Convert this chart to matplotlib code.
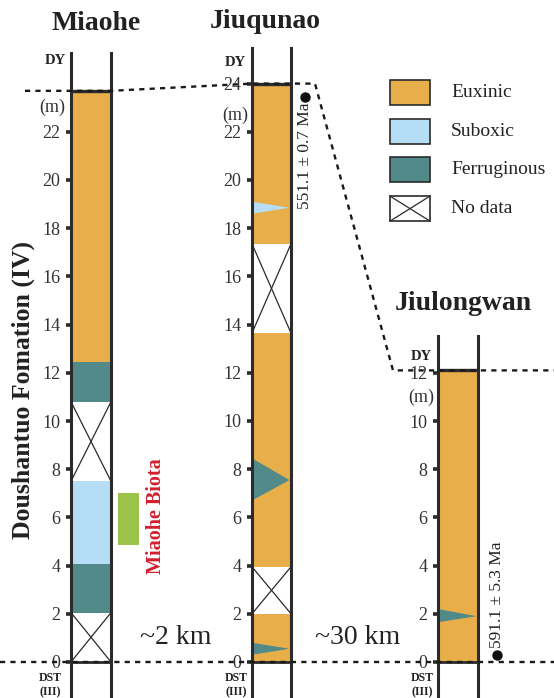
import matplotlib
matplotlib.use('Agg')
import matplotlib.pyplot as plt
from matplotlib.patches import Rectangle

plt.rcParams['font.family'] = ['Liberation Serif', 'DejaVu Serif']

# facies intervals (m)
miaohe_base = [0.0, 2.05, 4.05, 7.5, 10.8, 12.45]
miaohe_top = [2.05, 4.05, 7.5, 10.8, 12.45, 23.7]
miaohe_facies = ['nodata', 'ferr', 'subox', 'nodata', 'ferr', 'eux']

jiuqunao_base = [0.0, 2.0, 3.95, 13.65, 17.35]
jiuqunao_top = [2.0, 3.95, 13.65, 17.35, 24.0]
jiuqunao_facies = ['eux', 'nodata', 'eux', 'nodata', 'eux']
jiuqunao_wedge_lo = [0.3, 6.7, 18.6]
jiuqunao_wedge_hi = [0.8, 8.45, 19.1]
jiuqunao_wedge_apex = [0.55, 7.55, 18.85]
jiuqunao_wedge_facies = ['ferr', 'ferr', 'subox']

jiulongwan_base = [0.0]
jiulongwan_top = [12.1]
jiulongwan_facies = ['eux']
jiulongwan_wedge_lo = [1.65]
jiulongwan_wedge_hi = [2.2]
jiulongwan_wedge_apex = [1.9]
jiulongwan_wedge_facies = ['ferr']

biota_base, biota_top = 4.85, 7.0
date_jiuqunao = 23.45
date_jiulongwan = 0.3

colors = {'eux': '#e8ae4a', 'subox': '#b6ddf6', 'ferr': '#528a8a', 'nodata': 'white'}
legend_names = ['Euxinic', 'Suboxic', 'Ferruginous', 'No data']
legend_keys = ['eux', 'subox', 'ferr', 'nodata']

W, H = 554, 698
Y0, PPM = 662, 24.1
DARK = '#2b2b2b'


def m(py):
    return (Y0 - py) / PPM


fig = plt.figure(figsize=(W / 100, H / 100), dpi=100)


def column(x0, x1, top_px, base, top, facies, wlo=(), whi=(), wap=(), wfac=()):
    ax = fig.add_axes([x0 / W, 0, (x1 - x0) / W, (H - top_px) / H])
    ax.set_xlim(0, 1)
    ax.set_ylim(m(H), m(top_px))
    for b, t, f in zip(base, top, facies):
        ax.bar(0.5, t - b, bottom=b, width=1, color=colors[f], linewidth=0)
        if f == 'nodata':
            ax.plot([0, 1], [b, t], color=DARK, lw=0.9)
            ax.plot([0, 1], [t, b], color=DARK, lw=0.9)
    for lo, hi, ap, f in zip(wlo, whi, wap, wfac):
        ax.fill([0, 0, 0.96], [lo, hi, ap], color=colors[f], lw=0)
    ax.hlines([top[-1]], 0, 1, color=DARK, lw=2.4)
    ax.hlines([0], 0, 1, color=DARK, lw=2.0)
    for s in ['top', 'bottom']:
        ax.spines[s].set_visible(False)
    for s in ['left', 'right']:
        ax.spines[s].set_linewidth(2.2)
        ax.spines[s].set_color(DARK)
    ax.set_xticks([])
    ax.set_yticks(range(0, int(top[-1]) + 1, 2))
    ax.tick_params(axis='y', length=3.5, width=2.6, color=DARK, labelsize=13,
                   labelcolor='#333333', pad=4)
    ax.patch.set_alpha(0)
    return ax


ax1 = column(71, 111, 53, miaohe_base, miaohe_top, miaohe_facies)
ax2 = column(252, 291, 48, jiuqunao_base, jiuqunao_top, jiuqunao_facies,
             jiuqunao_wedge_lo, jiuqunao_wedge_hi, jiuqunao_wedge_apex, jiuqunao_wedge_facies)
ax3 = column(438, 478, 336, jiulongwan_base, jiulongwan_top, jiulongwan_facies,
             jiulongwan_wedge_lo, jiulongwan_wedge_hi, jiulongwan_wedge_apex, jiulongwan_wedge_facies)

# overlay: x in pixels, y in metres
ov = fig.add_axes([0, 0, 1, 1], zorder=5)
ov.set_xlim(0, W)
ov.set_ylim(m(H), m(0))
ov.axis('off')
ov.patch.set_alpha(0)
dash = dict(color='#1a1a1a', lw=1.7, linestyle=(0, (2.2, 2.2)))
ov.plot([25, 111, 252, 315, 393, W], [miaohe_top[-1], miaohe_top[-1], jiuqunao_top[-1],
        jiuqunao_top[-1], jiulongwan_top[-1], jiulongwan_top[-1]], **dash)
ov.plot([0, W], [0, 0], **dash)
ov.add_patch(Rectangle((118, biota_base), 21, biota_top - biota_base, color='#9dc44a', lw=0))
ov.plot([305], [date_jiuqunao], 'o', color='#111111', ms=6.5)
ov.plot([497], [date_jiulongwan], 'o', color='#111111', ms=6.5)

# legend in pixel coordinates
lg = fig.add_axes([0, 0, 1, 1], zorder=6)
lg.set_xlim(0, W)
lg.set_ylim(H, 0)
lg.axis('off')
lg.patch.set_alpha(0)
for i, (name, key) in enumerate(zip(legend_names, legend_keys)):
    y = 80 + i * 38.7
    lg.add_patch(Rectangle((390, y), 40, 25, facecolor=colors[key], edgecolor=DARK, lw=1.2))
    if key == 'nodata':
        lg.plot([390, 430], [y, y + 25], color=DARK, lw=0.9)
        lg.plot([390, 430], [y + 25, y], color=DARK, lw=0.9)
    lg.text(451, y + 12.5, name, fontsize=14, va='center', ha='left', color='#222222')


def ftext(x, y, s, **kw):
    fig.text(x / W, 1 - y / H, s, ha=kw.pop('ha', 'center'), va=kw.pop('va', 'center'), **kw)


ftext(96, 24, 'Miaohe', fontsize=20, fontweight='bold', color='#222222')
ftext(265, 22, 'Jiuqunao', fontsize=20, fontweight='bold', color='#222222')
ftext(463, 304, 'Jiulongwan', fontsize=20, fontweight='bold', color='#222222')

for x, y in [(66, 60), (246, 63), (432, 357)]:
    ftext(x, y, 'DY', fontsize=10.5, fontweight='bold', ha='right', color='#222222')
for x in [50, 236, 422]:
    ftext(x, 678, 'DST', fontsize=8.5, fontweight='bold', color='#222222')
    ftext(x, 692, '(III)', fontsize=8.5, fontweight='bold', color='#222222')
for x, y in [(52, 107), (235, 115), (421, 397)]:
    ftext(x, y, '(m)', fontsize=13, color='#333333')

ftext(23, 390, 'Doushantuo Fomation (IV)', fontsize=18.5, fontweight='bold', rotation=90,
      color='#222222')
ftext(156, 516, 'Miaohe Biota', fontsize=14.5, fontweight='bold', rotation=90, color='#d0202e')
ftext(305, 156, '551.1 ± 0.7 Ma', fontsize=12.5, rotation=90, color='#222222')
ftext(497, 595, '591.1 ± 5.3 Ma', fontsize=12.5, rotation=90, color='#222222')
ftext(176, 638, '~2 km', fontsize=20, color='#222222')
ftext(358, 638, '~30 km', fontsize=20, color='#222222')

fig.savefig('out.png', dpi=100, facecolor='white')
